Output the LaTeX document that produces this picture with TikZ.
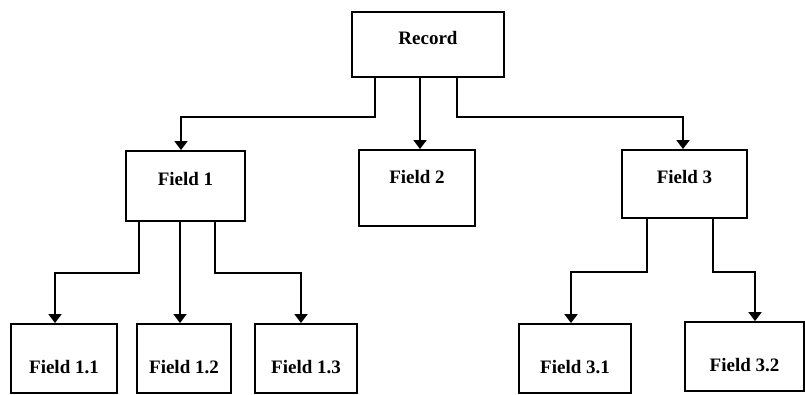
\documentclass[tikz,border=0pt]{standalone}
\usepackage{fontspec}
\setmainfont{Liberation Serif}
\usetikzlibrary{arrows.meta}

\begin{document}
\begin{tikzpicture}[x=1pt, y=1pt, line width=1.8pt,
    field/.style={draw, inner sep=0pt, font=\fontsize{19}{21}\selectfont\bfseries, text height=12pt, text depth=12pt},
    leaf/.style={field, minimum height=69pt, text height=30pt, text depth=0pt},
    link/.style={-{Triangle[length=9pt, width=13pt]}}]
    \useasboundingbox (0,0) rectangle (805,394);

    \node[field, minimum width=152pt, minimum height=65pt] (rec) at (428,349.5) {Record};
    \node[field, minimum width=119pt, minimum height=70pt] (f1) at (185.5,208) {Field 1};
    \node[field, minimum width=116pt, minimum height=76pt, text depth=20pt] (f2) at (417,206) {Field 2};
    \node[field, minimum width=125pt, minimum height=68pt] (f3) at (684.5,210) {Field 3};

    \node[leaf, minimum width=106pt] (f11) at (64,35.5) {Field 1.1};
    \node[leaf, minimum width=94pt] (f12) at (184,35.5) {Field 1.2};
    \node[leaf, minimum width=102pt] (f13) at (306,35.5) {Field 1.3};
    \node[leaf, minimum width=112pt] (f31) at (575,35.5) {Field 3.1};
    \node[leaf, minimum width=119pt] (f32) at (744.5,37.5) {Field 3.2};

    % record to fields
    \draw[link] ([xshift=-53pt]rec.south) -- ++(0,-39) -| ([xshift=-4.5pt]f1.north);
    \draw[link] ([xshift=-8pt]rec.south) -- ([xshift=3pt]f2.north);
    \draw[link] ([xshift=29pt]rec.south) -- ++(0,-39) -| ([xshift=-1.5pt]f3.north);

    % field 1 to its parts
    \draw[link] ([xshift=-46.5pt]f1.south) -- ++(0,-51) -| ([xshift=-9pt]f11.north);
    \draw[link] ([xshift=-5.5pt]f1.south) -- ([xshift=-4pt]f12.north);
    \draw[link] ([xshift=29.5pt]f1.south) -- ++(0,-51) -| ([xshift=-5pt]f13.north);

    % field 3 to its parts
    \draw[link] ([xshift=-37.5pt]f3.south) -- ++(0,-53) -| ([xshift=-4pt]f31.north);
    \draw[link] ([xshift=28.5pt]f3.south) -- ++(0,-53) -| ([xshift=10.5pt]f32.north);
\end{tikzpicture}
\end{document}
